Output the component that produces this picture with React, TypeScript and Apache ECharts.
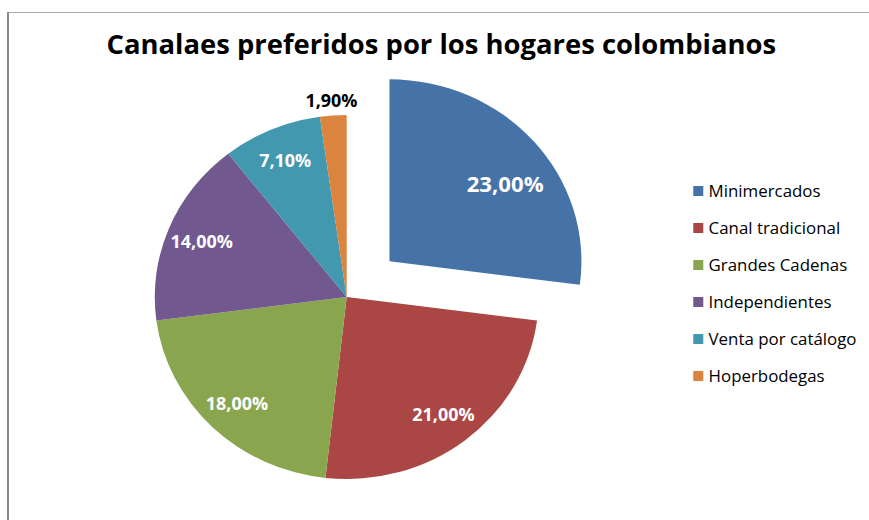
import React, { useEffect, useRef } from "react";
import * as echarts from "echarts";

const title = "Canalaes preferidos por los hogares colombianos";
const categories = [
  "Minimercados",
  "Canal tradicional",
  "Grandes Cadenas",
  "Independientes",
  "Venta por catálogo",
  "Hoperbodegas",
];
const values = [23, 21, 18, 14, 7.1, 1.9];
const colors = ["#4572A7", "#AA4643", "#89A54E", "#71588F", "#4198AF", "#DB843D"];

// the reference image is horizontally stretched
const SX = 1.0546;
const W = Math.round(869 / SX);
const H = 520;
const FONT = "'Open Sans', 'Noto Sans', sans-serif";

const fmt = (v: number) => v.toFixed(2).replace(".", ",") + "%";

export default function App() {
  const ref = useRef<HTMLDivElement>(null);
  useEffect(() => {
    if (!ref.current) return;
    const chart = echarts.init(ref.current, null, { renderer: "svg" });
    const cx = 346.7 / SX;
    const cy = 297;
    const R = 182;
    chart.setOption({
      animation: false,
      backgroundColor: "#ffffff",
      title: {
        text: title,
        left: 101,
        top: 31,
        padding: 0,
        textStyle: { fontFamily: FONT, fontWeight: "bold", fontSize: 26, color: "#000" },
      },
      legend: {
        orient: "vertical",
        left: 688 / SX,
        top: 178,
        itemWidth: 9.5,
        itemHeight: 10,
        itemGap: 21,
        icon: "rect",
        selectedMode: false,
        data: categories,
        textStyle: { fontFamily: FONT, fontSize: 16, color: "#000" },
      },
      graphic: [
        {
          type: "line",
          shape: { x1: 6.6, y1: 12.5, x2: W + 10, y2: 12.5 },
          style: { stroke: "#a8a8a8", lineWidth: 1 },
          silent: true,
        },
        {
          type: "line",
          shape: { x1: 7.6, y1: 12, x2: 7.6, y2: H + 10 },
          style: { stroke: "#8a8a8a", lineWidth: 1.9 },
          silent: true,
        },
      ],
      series: [
        {
          type: "pie",
          center: [cx, cy],
          radius: [0, R],
          startAngle: 90,
          clockwise: true,
          selectedMode: "single",
          selectedOffset: 54,
          silent: true,
          label: { show: false },
          labelLine: { show: false },
          emphasis: { disabled: true },
          data: categories.map((name, i) => ({
            name,
            value: values[i],
            selected: i === 0,
            itemStyle: { color: colors[i] },
          })),
        },
        {
          type: "pie",
          center: [cx, cy],
          radius: [0, R * 1.6],
          startAngle: 90,
          clockwise: true,
          selectedMode: "single",
          selectedOffset: 54,
          silent: true,
          emphasis: { disabled: true },
          itemStyle: { color: "rgba(0,0,0,0)" },
          labelLine: { show: false },
          label: {
            show: true,
            position: "inside",
            formatter: (p: any) => fmt(p.value),
            fontFamily: FONT,
            fontWeight: "bold",
            fontSize: 17,
            color: "#ffffff",
          },
          labelLayout: (p: any) => {
            if (p.dataIndex === 0) return { dx: -2, dy: 20 };
            if (p.dataIndex === 5) return { dx: -4, dy: -49 };
            return {};
          },
          data: categories.map((name, i) => ({
            name,
            value: values[i],
            selected: i === 0,
            label:
              i === 0
                ? { fontSize: 21 }
                : i === 5
                ? { color: "#000000" }
                : {},
          })),
        },
      ],
    });
    return () => chart.dispose();
  }, []);
  return (
    <div
      ref={ref}
      style={{
        position: "absolute",
        left: 0,
        top: 0,
        width: W,
        height: H,
        transform: `scaleX(${SX})`,
        transformOrigin: "0 0",
        background: "#fff",
      }}
    />
  );
}
